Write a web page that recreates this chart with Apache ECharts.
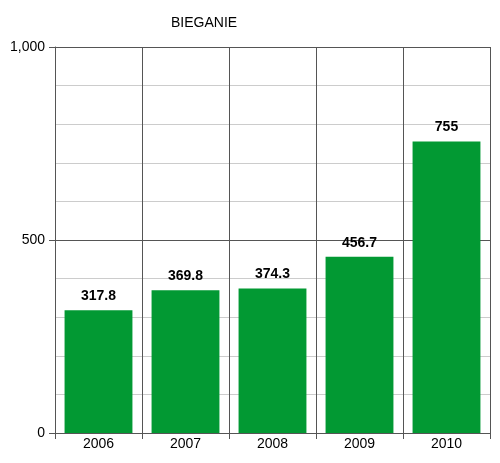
<!DOCTYPE html>
<html lang="en">
  <head>
    <meta charset="UTF-8" />
    <title>Bieganie</title>
    <script src="https://cdn.jsdelivr.net/npm/echarts@6/dist/echarts.min.js"></script>
    <style>
      html, body { margin: 0; padding: 0; background: #fff; }
      #main { width: 500px; height: 463px; }
    </style>
  </head>
  <body>
    <div id="main"></div>
    <script>
      const years = ['2006', '2007', '2008', '2009', '2010'];
      const distance = [317.8, 369.8, 374.3, 456.7, 755];

      const font = 'Arial, "Liberation Sans", sans-serif';
      const dark = '#555555';

      var myChart = echarts.init(document.getElementById('main'));

      myChart.setOption({
        animation: false,
        title: {
          text: 'BIEGANIE',
          left: 166,
          top: 11,
          textStyle: { fontFamily: font, fontSize: 14, fontWeight: 'normal', color: '#000' },
        },
        grid: { left: 55, right: 10, top: 47, bottom: 30 },
        xAxis: {
          type: 'category',
          data: years,
          axisLine: { lineStyle: { color: dark } },
          axisTick: { show: true, length: 6, lineStyle: { color: dark } },
          axisLabel: { fontFamily: font, fontSize: 14, color: '#000', margin: 4 },
          splitLine: { show: true, lineStyle: { color: dark } },
        },
        yAxis: {
          type: 'value',
          min: 0,
          max: 1000,
          interval: 500,
          axisLine: { show: true, lineStyle: { color: dark } },
          axisTick: { show: true, length: 6, lineStyle: { color: dark } },
          axisLabel: {
            fontFamily: font,
            fontSize: 14,
            color: '#000',
            margin: 10,
            formatter: (v) => v.toLocaleString('en-US'),
          },
          splitLine: { show: true, lineStyle: { color: dark } },
          minorTick: { show: false, splitNumber: 5 },
          minorSplitLine: { show: true, lineStyle: { color: '#cccccc' } },
        },
        series: [
          {
            type: 'bar',
            data: distance,
            barCategoryGap: '22%',
            itemStyle: { color: '#029933' },
            label: {
              show: true,
              position: 'top',
              distance: 7,
              fontFamily: font,
              fontSize: 14,
              fontWeight: 'bold',
              color: '#000',
            },
          },
        ],
      });
    </script>
  </body>
</html>
